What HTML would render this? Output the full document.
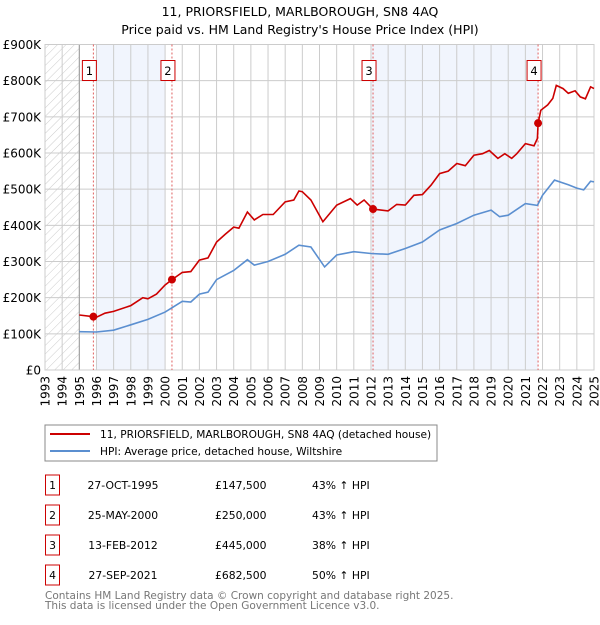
<!DOCTYPE html>
<html><head><meta charset="utf-8"><style>
body{margin:0;background:#fff;font-family:"Liberation Sans","DejaVu Sans",sans-serif;}
svg text{font-family:"DejaVu Sans","Liberation Sans",sans-serif;}
</style></head><body>
<svg id="c" width="600" height="620" xmlns="http://www.w3.org/2000/svg">
<defs><pattern id="hatch" width="6" height="6" patternUnits="userSpaceOnUse" patternTransform="rotate(45)"><line x1="0" y1="0" x2="0" y2="6" stroke="#ccc" stroke-width="1"/></pattern></defs>
<text x="300" y="16" text-anchor="middle" font-size="12.5">11, PRIORSFIELD, MARLBOROUGH, SN8 4AQ</text>
<text x="300" y="34" text-anchor="middle" font-size="12.5">Price paid vs. HM Land Registry's House Price Index (HPI)</text>
<g id="plot"></g>
<rect x="45" y="425" width="392" height="36" fill="#fff" stroke="#888"/>
<line x1="50" y1="434" x2="90" y2="434" stroke="#cc0000" stroke-width="2"/>
<text x="100" y="438" font-size="10.6">11, PRIORSFIELD, MARLBOROUGH, SN8 4AQ (detached house)</text>
<line x1="50" y1="451" x2="90" y2="451" stroke="#5b8fd0" stroke-width="2"/>
<text x="100" y="455" font-size="10.6">HPI: Average price, detached house, Wiltshire</text>
<g id="table" font-size="10.8"></g>
<text x="45" y="599" font-size="10.5" fill="#777">Contains HM Land Registry data © Crown copyright and database right 2025.</text>
<text x="45" y="609" font-size="10.5" fill="#777">This data is licensed under the Open Government Licence v3.0.</text>
</svg>
<script>
const hpiYears=[1995,1996,1997,1998,1999,2000,2000.5,2001,2001.5,2002,2002.5,2003,2004,2004.8,2005.2,2006,2007,2007.8,2008.5,2009.3,2010,2011,2012,2013,2014,2015,2016,2017,2018,2019,2019.5,2020,2021,2021.7,2022,2022.7,2023.5,2024,2024.4,2024.8,2025];
const hpiValues=[106,105,110,125,140,160,175,190,188,210,215,250,275,305,290,300,320,345,340,285,318,327,322,320,336,354,387,405,428,442,424,428,460,455,483,525,512,503,498,522,520];
const propYears=[1995,1995.82,1996,1996.5,1997,1998,1998.7,1999,1999.5,2000,2000.4,2001,2001.5,2002,2002.5,2003,2003.5,2004,2004.3,2004.8,2005.2,2005.7,2006.3,2007,2007.5,2007.8,2008,2008.5,2009.2,2010,2010.8,2011.2,2011.6,2012.12,2013,2013.5,2014,2014.5,2015,2015.5,2016,2016.5,2017,2017.5,2018,2018.5,2018.9,2019.4,2019.8,2020.2,2020.5,2021,2021.5,2021.7,2021.74,2021.9,2022.3,2022.6,2022.8,2023.2,2023.5,2023.9,2024.2,2024.5,2024.8,2025];
const propValues=[152,147.5,146,157,162,178,200,197,210,235,250,270,272,304,310,354,375,395,392,437,415,430,430,465,470,495,493,470,410,456,474,456,470,445,440,458,456,483,485,511,543,550,571,565,594,598,607,585,598,585,598,626,620,640,682.5,718,733,751,787,778,765,772,755,750,783,778];
const saleYears=[1995.82,2000.4,2012.12,2021.74];
const saleValues=[147.5,250,445,682.5];
const saleLabels=["1","2","3","4"];
const saleDates=["27-OCT-1995","25-MAY-2000","13-FEB-2012","27-SEP-2021"];
const salePrices=["£147,500","£250,000","£445,000","£682,500"];
const saleHpi=["43% ↑ HPI","43% ↑ HPI","38% ↑ HPI","50% ↑ HPI"];
const yTicks=[0,100,200,300,400,500,600,700,800,900];
const yTickLabels=["£0","£100K","£200K","£300K","£400K","£500K","£600K","£700K","£800K","£900K"];
const xTicks=[1993,1994,1995,1996,1997,1998,1999,2000,2001,2002,2003,2004,2005,2006,2007,2008,2009,2010,2011,2012,2013,2014,2015,2016,2017,2018,2019,2020,2021,2022,2023,2024,2025];
const shadeRanges=[[1996,2000],[2012,2021.74]];

const X0=45,X1=594,Y0=370,Y1=44.5;
const xs=y=>X0+(y-1993)/(2025-1993)*(X1-X0);
const ys=v=>Y0-v/900*(Y0-Y1);
const NS="http://www.w3.org/2000/svg";
const plot=document.getElementById('plot');
function mk(tag,attrs,parent){const e=document.createElementNS(NS,tag);for(const k in attrs)e.setAttribute(k,attrs[k]);(parent||plot).appendChild(e);return e;}

let r=mk('rect',{x:X0,y:Y1,width:X1-X0,height:Y0-Y1,fill:'#fff'});


shadeRanges.forEach(s=>{const e=mk('rect',{x:xs(s[0]),y:Y1,width:xs(s[1])-xs(s[0]),height:Y0-Y1,fill:'#eef3fc',opacity:0.8});

});
let h=mk('rect',{x:X0,y:Y1,width:xs(1995)-X0,height:Y0-Y1,fill:'url(#hatch)'});


yTicks.forEach((t,i)=>{const l=mk('line',{x1:X0,x2:X1,y1:ys(t),y2:ys(t),stroke:'#ccc'});


const tx=mk('text',{x:X0-4,y:ys(t)+4.5,'text-anchor':'end','font-size':12});tx.textContent=yTickLabels[i];

});
xTicks.forEach(t=>{const l=mk('line',{x1:xs(t),x2:xs(t),y1:Y1,y2:Y0,stroke:'#ccc'});


const tx=mk('text',{x:0,y:0,'text-anchor':'end','font-size':12,transform:`translate(${xs(t)+4.5},${Y0+6}) rotate(-90)`});tx.textContent=t;

});
let ax=mk('line',{x1:xs(1995),x2:xs(1995),y1:Y1,y2:Y0,stroke:'#999'});


let fr=mk('rect',{x:X0,y:Y1,width:X1-X0,height:Y0-Y1,fill:'none',stroke:'#ccc'});


saleYears.forEach((s,i)=>{const l=mk('line',{x1:xs(s),x2:xs(s),y1:Y1,y2:Y0,stroke:'#e06060','stroke-dasharray':'2,2'});

});
function path(xa,va,color,name){const d=xa.map((x,i)=>(i?'L':'M')+xs(x).toFixed(1)+','+ys(va[i]).toFixed(1)).join('');
const p=mk('path',{d:d,fill:'none',stroke:color,'stroke-width':1.6});

}
path(hpiYears,hpiValues,'#5b8fd0','hpi-line');
path(propYears,propValues,'#cc0000','property-price-line');
saleYears.forEach((s,i)=>{const c=mk('circle',{cx:xs(s),cy:ys(saleValues[i]),r:4,fill:'#cc0000'});


const b=mk('rect',{x:xs(s)-11,y:60.5,width:14,height:20,fill:'#fff',stroke:'#cc0000'});


const t=mk('text',{x:xs(s)-4,y:75,'text-anchor':'middle','font-size':11.5});t.textContent=saleLabels[i];

});
const tb=document.getElementById('table');
saleLabels.forEach((lab,i)=>{const cy=485+30*i;
const b=mk('rect',{x:45.5,y:cy-10,width:14,height:20,fill:'#fff',stroke:'#cc0000'},tb);


const cells=[[52.5,lab,'middle','table-row-number'],[123,saleDates[i],'middle','table-row-date'],[215,salePrices[i],'start','table-row-price'],[312,saleHpi[i],'start','table-row-hpi']];
cells.forEach(c=>{const t=mk('text',{x:c[0],y:cy+4,'text-anchor':c[2]},tb);t.textContent=c[1];

});});
</script>
</body></html>
